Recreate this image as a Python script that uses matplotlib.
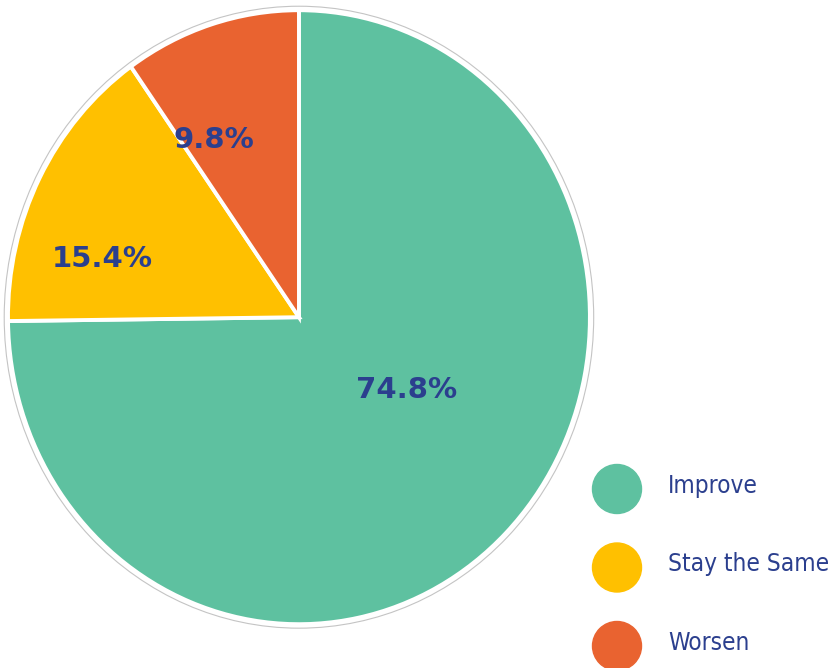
import matplotlib.pyplot as plt
from matplotlib.patches import Circle, Ellipse

# share of respondents by expected outlook
categories = ['Improve', 'Stay the Same', 'Worsen']
shares = [74.8, 15.4, 9.8]
colors = ['#5ec1a0', '#ffc000', '#e96330']

navy = '#2b3f8e'

fig = plt.figure(figsize=(8.36, 6.68), dpi=100)

# pie axes, slightly taller than wide
ax = fig.add_axes([0.0026, 0.0564, 0.710, 0.9375])
wedges, _ = ax.pie(shares, colors=colors, startangle=90, counterclock=False,
                   radius=1.0,
                   wedgeprops=dict(edgecolor='white', linewidth=2.8))
ax.set_aspect('auto')
ax.set_xlim(-1.02, 1.02)
ax.set_ylim(-1.02, 1.02)
ax.add_patch(Circle((0, 0), 1.013, fill=False, edgecolor='#c4c4c4',
                    linewidth=0.8, zorder=5))

# percentage labels inside the slices
label_xy = [(0.371, -0.236), (-0.675, 0.19), (-0.292, 0.578)]
for value, (x, y) in zip(shares, label_xy):
    ax.text(x, y, f'{value}%', ha='center', va='center', color=navy,
            fontsize=21, fontweight='bold', family='DejaVu Sans')

# legend drawn in pixel coordinates
lg = fig.add_axes([0, 0, 1, 1])
lg.set_xlim(0, 836)
lg.set_ylim(668, 0)
lg.axis('off')
for i, (name, c) in enumerate(zip(categories, colors)):
    cy = 489 + i * 78.5
    lg.add_patch(Ellipse((617, cy), 49, 49, color=c))
    lg.text(668, cy - 3.5, name, ha='left', va='center', color=navy,
            fontsize=17.5, family='DejaVu Sans', fontstretch='condensed')

fig.savefig('out.png', dpi=100)
